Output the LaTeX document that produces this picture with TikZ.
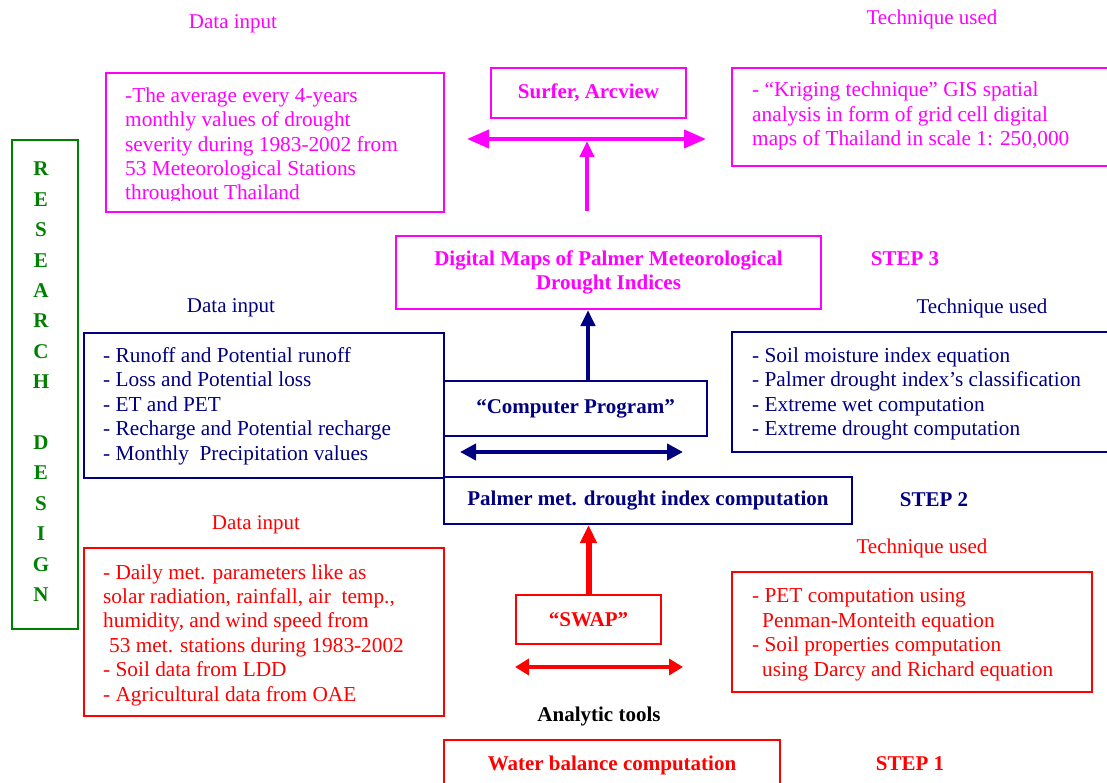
\documentclass[tikz,border=0pt]{standalone}
\usepackage{fontspec}
\setmainfont{Liberation Serif}
\usetikzlibrary{arrows.meta}
\definecolor{mag}{RGB}{255,0,255}
\definecolor{nav}{RGB}{0,0,128}
\definecolor{rd}{RGB}{255,0,0}
\definecolor{grn}{RGB}{0,128,0}
\tikzset{
  txt/.style={font=\fontsize{21.3}{24.4}\selectfont, inner sep=0pt, align=left, anchor=base west},
  lbl/.style={font=\fontsize{21}{24.4}\selectfont, inner sep=0pt, yshift=-2.5pt},
  btxt/.style={font=\fontsize{21}{24.4}\selectfont\bfseries, inner sep=0pt, align=center},
  box/.style={draw, line width=2pt, anchor=north west, inner sep=0pt},
  shaft/.style={line width=4pt},
}
\begin{document}
\begin{tikzpicture}[x=1pt,y=-1pt]
\useasboundingbox (0,0) rectangle (1107,783);
\clip (0,0) rectangle (1107,783);
\fill[white] (0,0) rectangle (1107,783);

% research design
\node[box, draw=grn, minimum width=66pt, minimum height=489pt] (rdbox) at (11,139) {};
\node[font=\fontsize{21}{30.4}\selectfont\bfseries, text=grn, inner sep=0pt, align=center, anchor=base] (rdtxt) at (41,601.5)
  {R\\E\\S\\E\\A\\R\\C\\H\\\mbox{}\\D\\E\\S\\I\\G\\N};

% ---------- STEP 3 (magenta)
\node[lbl, text=mag] (di3) at (233,21) {Data input};
\node[lbl, text=mag] (tu3) at (932,17) {Technique used};
\node[box, draw=mag, minimum width=338pt, minimum height=139pt] (tl) at (105,72) {};
\begin{scope}
\clip (105,72) rectangle (443,201);
\node[txt, text=mag] (tltxt) at (125,200) {-The average every 4-years\\monthly values of drought\\severity during 1983-2002 from\\53 Meteorological Stations\\throughout Thailand};
\end{scope}
\node[box, draw=mag, minimum width=195pt, minimum height=50pt, btxt, text=mag] (surf) at (490,67) {Surfer, Arcview};
\node[box, draw=mag, minimum width=400pt, minimum height=98pt] (tr) at (731,67) {};
\node[txt, text=mag] (trtxt) at (752,145.5) {- ``Kriging technique'' GIS spatial\\analysis in form of grid cell digital\\maps of Thailand in scale 1: 250,000};
\coordinate (ml) at (467,139);
\coordinate (mr) at (706,139);
\coordinate (mv) at (587,211);
\coordinate (mh) at (587,141);
\draw[shaft, mag, {Triangle[length=22pt,width=18pt]}-{Triangle[length=22pt,width=18pt]}] (ml) -- (mr);
\draw[shaft, mag, -{Triangle[length=16pt,width=14pt]}] (mv) -- (mh);
\node[box, draw=mag, minimum width=425pt, minimum height=73pt, btxt, text=mag] (dm) at (395,235) {Digital Maps of Palmer Meteorological\\Drought Indices};
\node[btxt, text=mag] (s3) at (905,259) {STEP 3};

% ---------- STEP 2 (navy)
\node[lbl, text=nav] (di2) at (231,305) {Data input};
\node[lbl, text=nav] (tu2) at (982,306) {Technique used};
\node[box, draw=nav, minimum width=360pt, minimum height=145pt] (nl) at (83,332) {};
\node[txt, text=nav] (nltxt) at (103,460) {- Runoff and Potential runoff\\- Loss and Potential loss\\- ET and PET\\- Recharge and Potential recharge\\- Monthly~ Precipitation values};
\node[box, draw=nav, minimum width=400pt, minimum height=120pt] (nr) at (731,331) {};
\node[txt, text=nav] (nrtxt) at (752,435.5) {- Soil moisture index equation\\- Palmer drought index's classification\\- Extreme wet computation\\- Extreme drought computation};
\node[box, draw=nav, minimum width=263pt, minimum height=55pt, btxt, text=nav] (cp) at (443,380) {``Computer Program''};
\coordinate (nx) at (588,0);
\draw[shaft, nav, -{Triangle[length=16pt,width=14pt]}] (nx |- cp.north) -- (nx |- dm.south);
\coordinate (nl2) at (460,452);
\coordinate (nr2) at (683,452);
\draw[shaft, nav, {Triangle[length=16pt,width=16pt]}-{Triangle[length=16pt,width=16pt]}] (nl2) -- (nr2);
\node[box, draw=nav, minimum width=408pt, minimum height=47pt, btxt, text=nav] (pm) at (443,476) {Palmer met. drought index computation};
\node[btxt, text=nav] (s2) at (934,500) {STEP 2};

% ---------- STEP 1 (red)
\node[lbl, text=rd] (di1) at (256,522) {Data input};
\node[lbl, text=rd] (tu1) at (922,546) {Technique used};
\node[box, draw=rd, minimum width=360pt, minimum height=168pt] (rl) at (83,547) {};
\node[txt, text=rd] (rltxt) at (103,701) {- Daily met. parameters like as\\solar radiation, rainfall, air~ temp.,\\humidity, and wind speed from\\\hspace*{6pt}53 met. stations during 1983-2002\\- Soil data from LDD\\- Agricultural data from OAE};
\node[box, draw=rd, minimum width=360pt, minimum height=120pt] (rr) at (731,571) {};
\node[txt, text=rd] (rrtxt) at (752,676) {- PET computation using\\\hspace*{10pt}Penman-Monteith equation\\- Soil properties computation\\\hspace*{10pt}using Darcy and Richard equation};
\node[box, draw=rd, minimum width=145pt, minimum height=49pt, btxt, text=rd] (swap) at (515,594) {``SWAP''};
\draw[line width=6pt, rd, -{Triangle[length=18pt,width=16pt]}] (swap.north) -- (swap.north |- pm.south);
\coordinate (rl2) at (515,667);
\coordinate (rr2) at (683,667);
\draw[shaft, rd, {Triangle[length=14pt,width=16pt]}-{Triangle[length=14pt,width=16pt]}] (rl2) -- (rr2);
\node[btxt] (at) at (599,716) {Analytic tools};
\node[box, draw=rd, minimum width=336pt, minimum height=50pt, btxt, text=rd] (wb) at (443,739) {Water balance computation};
\node[btxt, text=rd] (s1) at (910,764) {STEP 1};
\end{tikzpicture}
\end{document}
